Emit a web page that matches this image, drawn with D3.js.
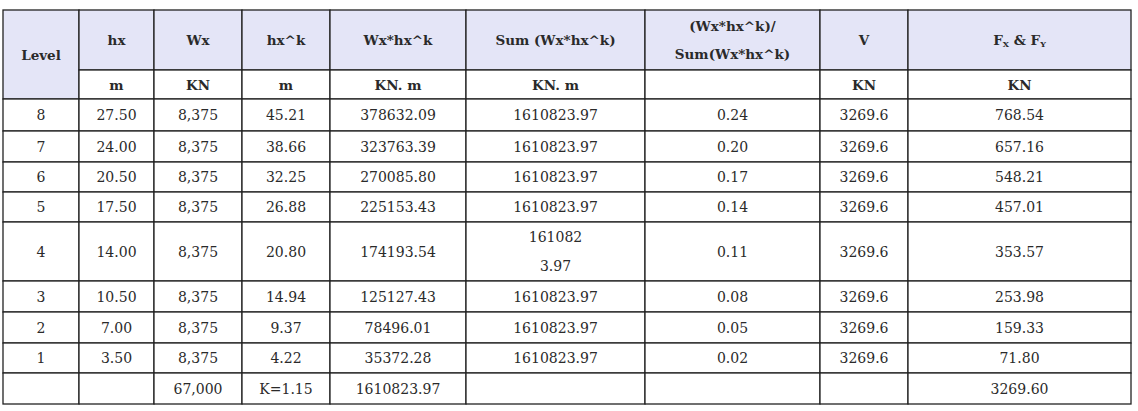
<!DOCTYPE html>
<html><head><meta charset="utf-8">
<script src="https://cdn.jsdelivr.net/npm/d3@7"></script>
<style>body{margin:0;background:#fff}</style></head>
<body><svg id="c" width="1138" height="411"></svg>
<script>
const headers = ["Level","hx","Wx","hx^k","Wx*hx^k","Sum (Wx*hx^k)","(Wx*hx^k)/|Sum(Wx*hx^k)","V","F_X & F_Y"];
const units = [null,"m","KN","m","KN. m","KN. m","","KN","KN"];
const levels = ["8","7","6","5","4","3","2","1"];
const hx = ["27.50","24.00","20.50","17.50","14.00","10.50","7.00","3.50"];
const wx = ["8,375","8,375","8,375","8,375","8,375","8,375","8,375","8,375"];
const hxk = ["45.21","38.66","32.25","26.88","20.80","14.94","9.37","4.22"];
const wxhxk = ["378632.09","323763.39","270085.80","225153.43","174193.54","125127.43","78496.01","35372.28"];
const sums = ["1610823.97","1610823.97","1610823.97","1610823.97","161082|3.97","1610823.97","1610823.97","1610823.97"];
const ratio = ["0.24","0.20","0.17","0.14","0.11","0.08","0.05","0.02"];
const V = ["3269.6","3269.6","3269.6","3269.6","3269.6","3269.6","3269.6","3269.6"];
const F = ["768.54","657.16","548.21","457.01","353.57","253.98","159.33","71.80"];
const totals = ["","","67,000","K=1.15","1610823.97","","","","3269.60"];

const colEdges = [3,79,154,242,330,466,645,820,908,1131];
const rowEdges = [10,70,99,131,162,192,222,281,312,343,373,404];
const svg = d3.select("#c");
const font = "'DejaVu Serif','Liberation Serif',serif";
const col = i => ({x: colEdges[i], w: colEdges[i+1]-colEdges[i]});
const row = i => ({y: rowEdges[i], h: rowEdges[i+1]-rowEdges[i]});

const cells = [];
headers.forEach((h,i)=>cells.push({c:i, r0:0, r1: i===0?2:1, t:h, bold:true, bg:"#e4e5f7"}));
units.forEach((u,i)=>{ if(u!==null) cells.push({c:i,r0:1,r1:2,t:u,bold:true,bg:"#fff"}); });
const cols=[levels,hx,wx,hxk,wxhxk,sums,ratio,V,F];
levels.forEach((_,r)=>cols.forEach((a,c)=>cells.push({c,r0:r+2,r1:r+3,t:a[r],bold:false,bg:"#fff"})));
totals.forEach((t,c)=>cells.push({c,r0:10,r1:11,t,bold:false,bg:"#fff"}));

const g = svg.selectAll("g.cell").data(cells).join("g");
g.append("rect")
 .attr("x",d=>col(d.c).x).attr("y",d=>rowEdges[d.r0])
 .attr("width",d=>col(d.c).w).attr("height",d=>rowEdges[d.r1]-rowEdges[d.r0])
 .attr("fill",d=>d.bg).attr("stroke","#222").attr("stroke-width",1.3);
g.each(function(d){
  const lines = d.t.split("|");
  const cx = col(d.c).x + col(d.c).w/2;
  const cy = (rowEdges[d.r0]+rowEdges[d.r1])/2;
  const lh = d.bold ? 28 : 29;
  lines.forEach((ln,k)=>{
    const t = d3.select(this).append("text")
      .attr("x",cx).attr("y",cy + (k-(lines.length-1)/2)*lh)
      .attr("text-anchor","middle").attr("dominant-baseline","central")
      .attr("font-family",font).attr("font-size",d.bold?13.5:14)
      .attr("font-weight",d.bold?"bold":"normal").attr("fill","#2a2a2a");
    if(ln.includes("_")){
      t.append("tspan").text("F");
      t.append("tspan").text("X").attr("font-size",8).attr("dy",4);
      t.append("tspan").text(" & F").attr("dy",-4);
      t.append("tspan").text("Y").attr("font-size",8).attr("dy",4);
    } else t.text(ln);
  });
});
</script></body></html>
